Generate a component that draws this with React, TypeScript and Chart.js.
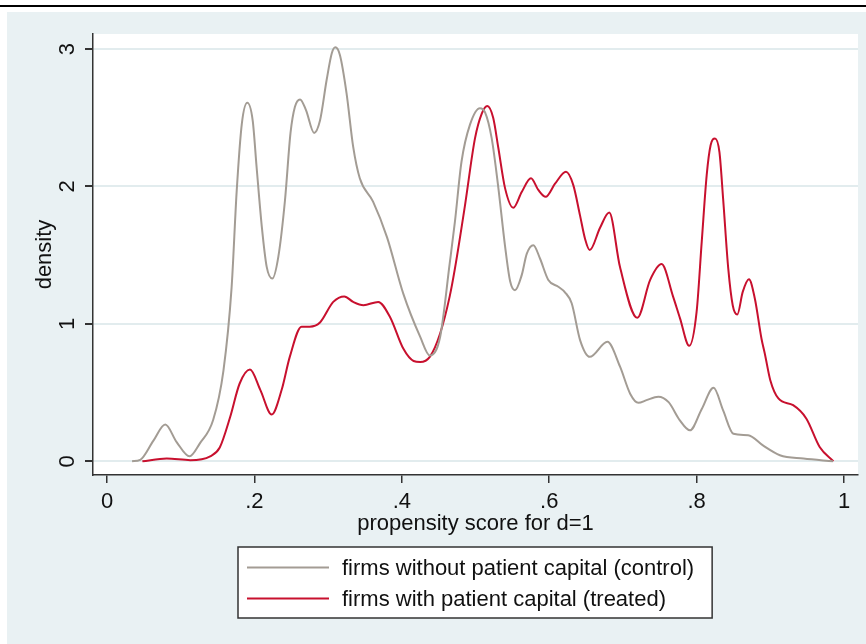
import React, { useEffect, useRef } from "react";
import { Chart, registerables } from "chart.js";

Chart.register(...registerables);

const controlX = [0.034, 0.045, 0.063, 0.079, 0.0945, 0.112, 0.126, 0.144, 0.158, 0.169, 0.176, 0.183, 0.1904, 0.1977, 0.203, 0.21, 0.2167, 0.2243, 0.2325, 0.2415, 0.249, 0.255, 0.2619, 0.27, 0.281, 0.289, 0.298, 0.305, 0.3098, 0.316, 0.325, 0.334, 0.343, 0.361, 0.38, 0.402, 0.425, 0.438, 0.452, 0.465, 0.472, 0.481, 0.4925, 0.506, 0.513, 0.522, 0.531, 0.54, 0.547, 0.5536, 0.5627, 0.5695, 0.5785, 0.5875, 0.5988, 0.6124, 0.6214, 0.6305, 0.642, 0.655, 0.679, 0.696, 0.71, 0.721, 0.732, 0.748, 0.762, 0.777, 0.791, 0.807, 0.823, 0.836, 0.85, 0.87, 0.89, 0.913, 0.945, 0.985];
const controlY = [0, 0.01, 0.15, 0.267, 0.14, 0.036, 0.13, 0.3, 0.66, 1.26, 1.97, 2.46, 2.61, 2.48, 2.14, 1.71, 1.415, 1.33, 1.49, 1.9, 2.39, 2.58, 2.634, 2.556, 2.39, 2.48, 2.775, 2.97, 3.013, 2.957, 2.68, 2.29, 2.06, 1.89, 1.63, 1.22, 0.905, 0.77, 0.905, 1.44, 1.74, 2.18, 2.45, 2.57, 2.54, 2.35, 1.99, 1.57, 1.31, 1.245, 1.355, 1.51, 1.573, 1.476, 1.32, 1.27, 1.23, 1.15, 0.88, 0.76, 0.87, 0.69, 0.49, 0.425, 0.445, 0.47, 0.43, 0.3, 0.225, 0.38, 0.535, 0.37, 0.2, 0.19, 0.115, 0.044, 0.02, 0];

const treatedX = [0.048, 0.081, 0.113, 0.14, 0.153, 0.167, 0.18, 0.194, 0.208, 0.2235, 0.237, 0.248, 0.264, 0.275, 0.289, 0.307, 0.322, 0.334, 0.348, 0.368, 0.384, 0.402, 0.416, 0.425, 0.438, 0.452, 0.465, 0.472, 0.4858, 0.4993, 0.5085, 0.516, 0.524, 0.531, 0.54, 0.5513, 0.5627, 0.5753, 0.5852, 0.5952, 0.6079, 0.6228, 0.6327, 0.6418, 0.6486, 0.655, 0.669, 0.6815, 0.696, 0.7195, 0.737, 0.7525, 0.768, 0.7775, 0.79, 0.8, 0.807, 0.8137, 0.819, 0.825, 0.831, 0.836, 0.843, 0.849, 0.8552, 0.8626, 0.871, 0.879, 0.888, 0.893, 0.9, 0.911, 0.931, 0.949, 0.967, 0.9855];
const treatedY = [0, 0.02, 0.008, 0.036, 0.1, 0.32, 0.566, 0.668, 0.52, 0.34, 0.52, 0.76, 0.98, 0.98, 1.01, 1.16, 1.2, 1.16, 1.136, 1.16, 1.05, 0.82, 0.73, 0.723, 0.76, 0.93, 1.2, 1.4, 1.865, 2.35, 2.53, 2.586, 2.5, 2.28, 1.99, 1.845, 1.96, 2.06, 1.975, 1.925, 2.02, 2.107, 2.01, 1.79, 1.62, 1.537, 1.7, 1.81, 1.415, 1.044, 1.32, 1.435, 1.2, 1.04, 0.84, 1.087, 1.6, 2.083, 2.3, 2.35, 2.25, 1.91, 1.4, 1.136, 1.068, 1.233, 1.325, 1.185, 0.894, 0.772, 0.59, 0.457, 0.408, 0.31, 0.104, 0];

const xTicks = [0, 0.2, 0.4, 0.6, 0.8, 1];
const yTicks = [0, 1, 2, 3];
const seriesLabels = ["firms without patient capital (control)", "firms with patient capital (treated)"];
const seriesColors = ["#a39c94", "#c8102e"];
const xTitle = "propensity score for d=1";
const yTitle = "density";

const FONT = '"Liberation Sans", Arial, sans-serif';
const BG = "#e9f1f3";

const fmtTick = (v: number) => {
  if (v === 0) return "0";
  if (v === 1) return "1";
  return String(v).replace(/^0/, "");
};

const backgroundPlugin = {
  id: "stataBackground",
  beforeDraw(chart: any) {
    const { ctx, width, height, chartArea } = chart;
    ctx.save();
    ctx.fillStyle = "#ffffff";
    ctx.fillRect(0, 0, width, height);
    ctx.fillStyle = "#000000";
    ctx.fillRect(0, 5, width, 2);
    ctx.fillStyle = BG;
    ctx.fillRect(7, 12, width - 7, height - 12);
    ctx.fillStyle = "#ffffff";
    ctx.fillRect(chartArea.left, chartArea.top, chartArea.right - chartArea.left, chartArea.bottom - chartArea.top);
    ctx.restore();
  },
};

const legendPlugin = {
  id: "boxLegend",
  afterDraw(chart: any) {
    const { ctx, chartArea } = chart;
    ctx.save();
    ctx.font = `22px ${FONT}`;
    const widths = chart.data.datasets.map((d: any) => ctx.measureText(d.label).width);
    const maxW = Math.max(...widths);
    const w = 9 + 82 + 13 + maxW + 18;
    const h = 71;
    const cx = (chartArea.left + chartArea.right) / 2;
    const x0 = Math.round(cx - w / 2);
    const y0 = 547;
    ctx.fillStyle = "#ffffff";
    ctx.fillRect(x0, y0, w, h);
    ctx.strokeStyle = "#333333";
    ctx.lineWidth = 1.5;
    ctx.strokeRect(x0, y0, w, h);
    chart.data.datasets.forEach((ds: any, i: number) => {
      const y = y0 + 20.5 + i * 31;
      ctx.strokeStyle = ds.borderColor;
      ctx.lineWidth = 2;
      ctx.beginPath();
      ctx.moveTo(x0 + 9, y);
      ctx.lineTo(x0 + 91, y);
      ctx.stroke();
      ctx.fillStyle = "#111111";
      ctx.textBaseline = "middle";
      ctx.textAlign = "left";
      ctx.fillText(ds.label, x0 + 104, y + 1);
    });
    ctx.restore();
  },
};

export default function App() {
  const ref = useRef<HTMLCanvasElement | null>(null);

  useEffect(() => {
    if (!ref.current) return;
    const chart = new Chart(ref.current, {
      type: "line",
      data: {
        datasets: [
          {
            label: seriesLabels[0],
            data: controlX.map((x, i) => ({ x, y: controlY[i] })),
            borderColor: seriesColors[0],
            borderWidth: 2,
            pointRadius: 0,
            fill: false,
            cubicInterpolationMode: "monotone",
          },
          {
            label: seriesLabels[1],
            data: treatedX.map((x, i) => ({ x, y: treatedY[i] })),
            borderColor: seriesColors[1],
            borderWidth: 2,
            pointRadius: 0,
            fill: false,
            cubicInterpolationMode: "monotone",
          },
        ],
      },
      options: {
        animation: false,
        responsive: false,
        devicePixelRatio: 1,
        layout: { padding: { left: 0, right: 8, top: 34, bottom: 107 } },
        plugins: {
          legend: { display: false },
          tooltip: { enabled: false },
        },
        scales: {
          x: {
            type: "linear",
            min: -0.019,
            max: 1.019,
            afterBuildTicks: (scale: any) => {
              scale.ticks = xTicks.map((v) => ({ value: v }));
            },
            afterFit: (scale: any) => {
              scale.height = 62;
            },
            grid: {
              color: "rgba(0,0,0,0)",
              tickColor: "#333333",
              tickLength: 8,
              lineWidth: 1.5,
            },
            border: { display: true, color: "#333333", width: 1.5 },
            ticks: {
              callback: (v: any) => fmtTick(Number(v)),
              color: "#111111",
              font: { family: FONT, size: 22 },
              padding: 6,
              maxRotation: 0,
              minRotation: 0,
              autoSkip: false,
            },
            title: {
              display: true,
              text: xTitle,
              color: "#111111",
              font: { family: FONT, size: 22 },
              padding: { top: 0, bottom: 0 },
            },
          },
          y: {
            type: "linear",
            min: -0.1,
            max: 3.11,
            afterBuildTicks: (scale: any) => {
              scale.ticks = yTicks.map((v) => ({ value: v }));
            },
            afterFit: (scale: any) => {
              scale.width = 93;
            },
            grid: {
              color: "#e2ecee",
              lineWidth: 2,
              tickColor: "#333333",
              tickLength: 8,
            },
            border: { display: true, color: "#333333", width: 1.5 },
            ticks: {
              callback: (v: any) => String(v),
              color: "#111111",
              font: { family: FONT, size: 22 },
              padding: 11,
              minRotation: 90,
              maxRotation: 90,
              crossAlign: "center",
              autoSkip: false,
            },
            title: {
              display: true,
              text: yTitle,
              color: "#111111",
              font: { family: FONT, size: 22 },
              padding: { top: 32, bottom: 0 },
            },
          },
        },
      },
      plugins: [backgroundPlugin, legendPlugin],
    } as any);
    return () => chart.destroy();
  }, []);

  return (
    <div style={{ position: "fixed", left: 0, top: 0, width: 866, height: 644 }}>
      <canvas ref={ref} width={866} height={644} style={{ width: 866, height: 644, display: "block" }} />
    </div>
  );
}
